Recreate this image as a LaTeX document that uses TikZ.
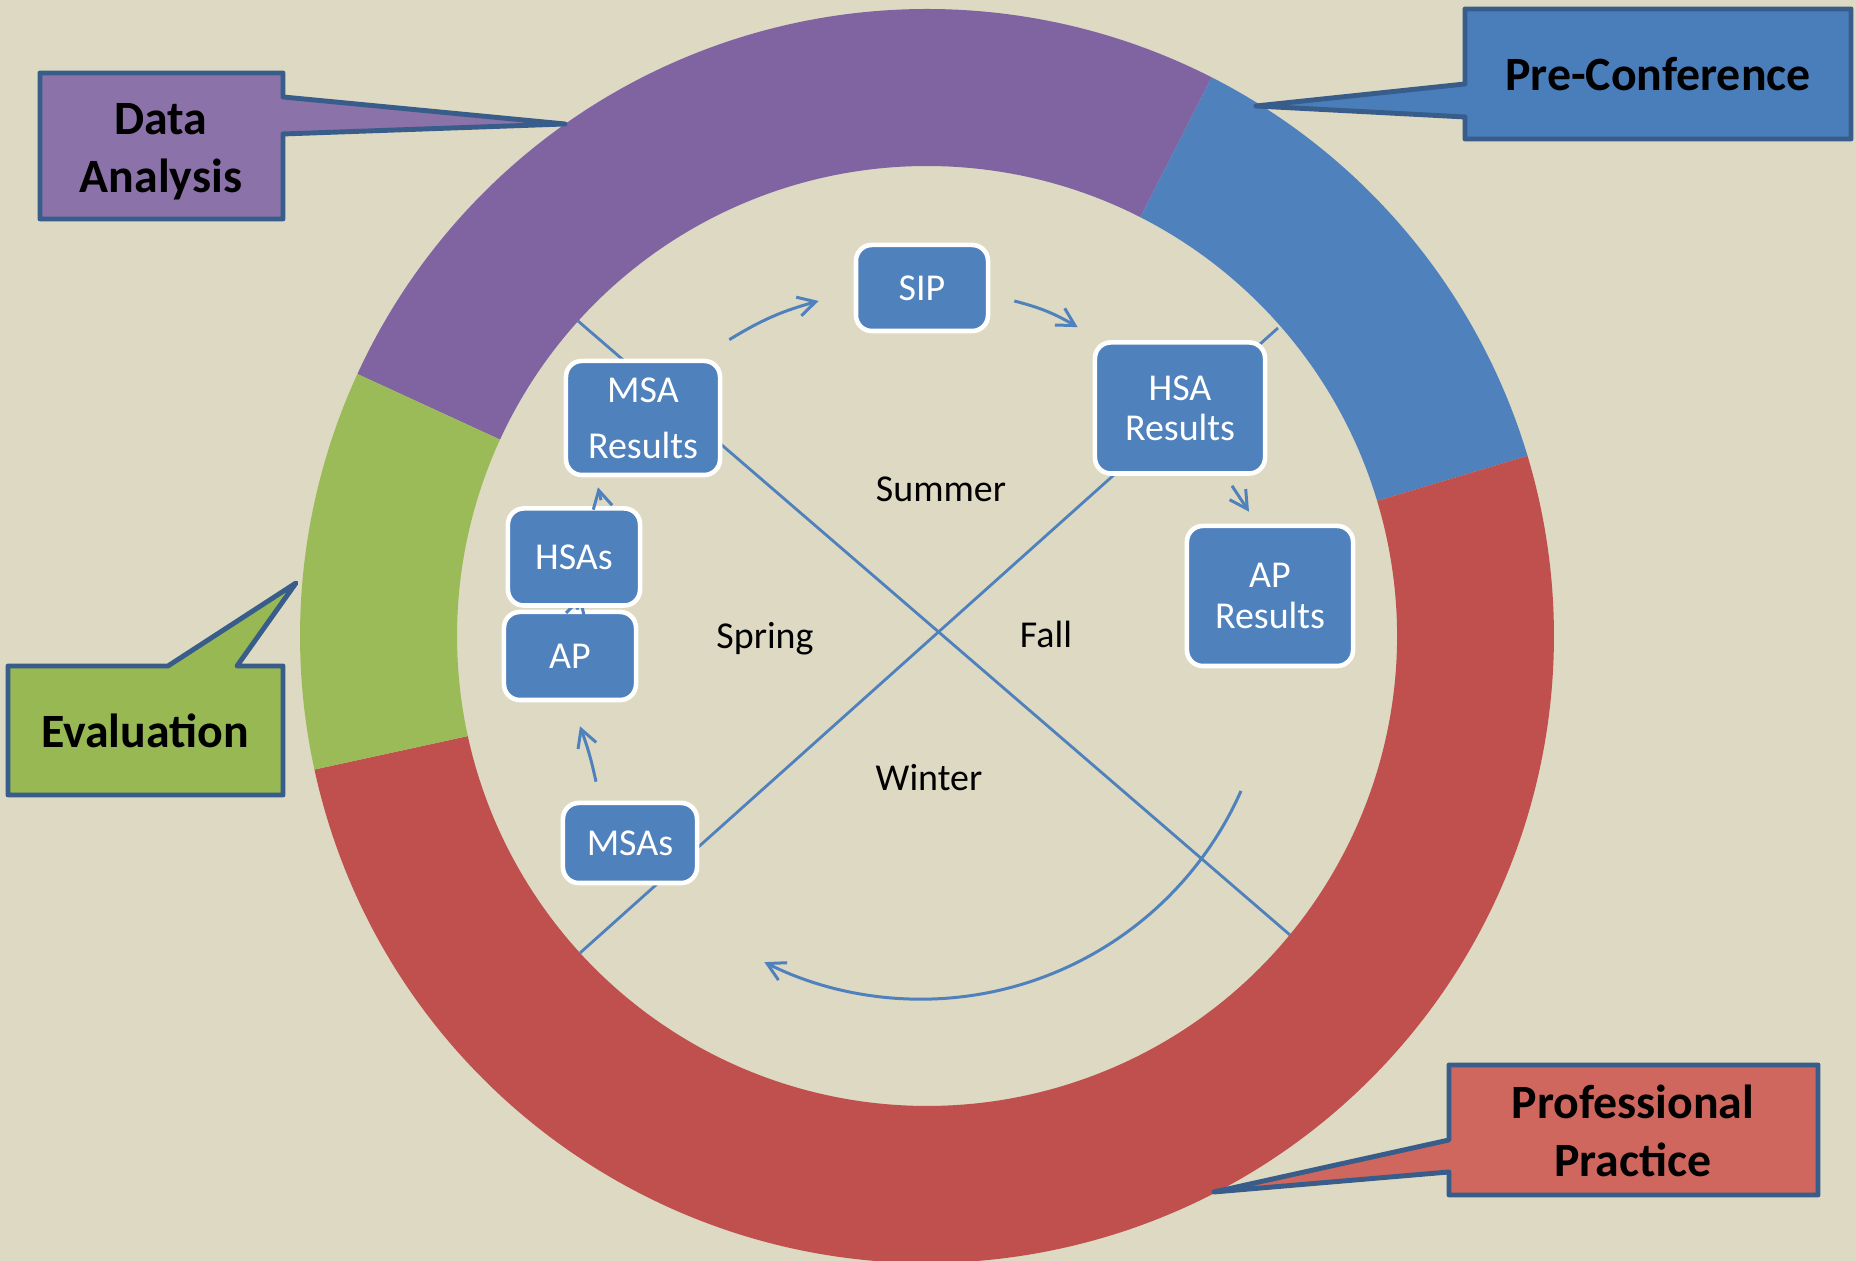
\documentclass[tikz,border=0pt]{standalone}
\usepackage{fontspec}
\setmainfont{Carlito}
\usepackage{tikz}
\usetikzlibrary{arrows.meta}

\definecolor{bg}{HTML}{DDD9C3}
\definecolor{ringda}{HTML}{8064A2}
\definecolor{ringpc}{HTML}{4F81BD}
\definecolor{ringpp}{HTML}{C0504D}
\definecolor{ringev}{HTML}{9BBB59}
\definecolor{edge}{HTML}{385D8A}
\definecolor{fillda}{HTML}{8B72A9}
\definecolor{fillpc}{HTML}{4A7EBB}
\definecolor{fillev}{HTML}{97B853}
\definecolor{fillpp}{HTML}{CF675F}

\tikzset{
	>={Straight Barb[length=5pt,width=5.5pt]},  % open arrow heads
	box/.style={draw=white, fill=ringpc, line width=1.3pt, rounded corners=4.5pt,
		text=white, align=center, inner sep=2pt, font=\fontsize{10.8}{11.4}\selectfont},
	season/.style={font=\fontsize{10.8}{12}\selectfont, text=black},
	flow/.style={ringpc, line width=0.85pt, ->},
	chord/.style={ringpc, line width=0.8pt},
	callout/.style={draw=edge, line width=1.4pt, line join=round},
	calltext/.style={align=center, font=\bfseries\fontsize{13.6}{16.5}\selectfont}
}

\begin{document}
\begin{tikzpicture}[x=0.01cm, y=0.01cm]
	% page and background
	\useasboundingbox (0,0) rectangle (1856,1261);
	\fill[bg] (0,0) rectangle (1856,1261);
	
	% ring of four phases
	\coordinate (O) at (927,625);
	\foreach \a/\b/\c in {63/155.3/ringda, 16.7/63/ringpc, -167.7/16.7/ringpp, 155.3/192.3/ringev}
	\fill[\c] ([shift={(\a:627)}]O) arc[start angle=\a, end angle=\b, radius=627]
	-- ([shift={(\b:470)}]O) arc[start angle=\b, end angle=\a, radius=470] -- cycle;
	
	% the cross splitting the seasons
	\coordinate (c1) at (578,940);
	\coordinate (c2) at (1290,326);
	\coordinate (c3) at (1278,933);
	\coordinate (c4) at (580,308);
	\draw[chord] (c1) -- (c2);
	\draw[chord] (c3) -- (c4);
	
	% yearly sweep (winter)
	\coordinate (sweep) at (1241,470);
	\draw[flow] (sweep) arc[start angle=-23.9, end angle=-116.6, radius=350];
	
	% results and tests
	\node[box, minimum width=1.32cm, minimum height=0.86cm] (sip) at (922,973) {SIP};
	\node[box, minimum width=1.54cm, minimum height=1.14cm,
	font=\fontsize{10.8}{16}\selectfont] (msa) at (643,843) {MSA\\Results};
	\node[box, minimum width=1.70cm, minimum height=1.31cm] (hsa) at (1180,853) {HSA\\Results};
	\node[box, minimum width=1.66cm, minimum height=1.40cm] (apr) at (1270,665) {AP\\Results};
	\node[box, minimum width=1.32cm, minimum height=0.88cm] (ap) at (570,605) {AP};
	\draw[flow] ([xshift=2pt]ap.north) -- ++(4,14);
	\node[box, minimum width=1.32cm, minimum height=0.97cm] (hsas) at (574,704) {HSAs};
	\node[box, minimum width=1.34cm, minimum height=0.80cm] (msas) at (630,418) {MSAs};
	
	% arrows between them
	\draw[flow] ([shift={(7,19)}]msa.north east) to[bend left=8] ([shift={(-35,-13)}]sip.west);
	\draw[flow] ([shift={(24,-13)}]sip.east) to[bend left=8] ([shift={(-15,13)}]hsa.north west);
	\draw[flow] ([shift={(52,-10)}]hsa.south) -- ([shift={(-21,12)}]apr.north);
	\draw[flow] ([shift={(27,6)}]hsas.north) -- ([shift={(-45,-10)}]msa.south);
	\draw[flow] ([shift={(-34,19)}]msas.north) to[bend right=4] ([shift={(10,-24)}]ap.south);
	
	% seasons
	\node[season] (summer) at (941,772) {Summer};
	\node[season] (spring) at (765,622) {Spring};
	\node[season] (fall) at (1046,627) {Fall};
	\node[season] (winter) at (929,483) {Winter};
	
	% callouts
	\draw[callout, fill=fillda] (40,1042) -- (40,1188) -- (283,1188) -- (283,1164)
	-- (565,1137) -- (283,1127) -- (283,1042) -- cycle;
	\node[calltext] (da) at (161,1109) {Data\\Analysis};
	
	\draw[callout, fill=fillpc] (1465,1122) -- (1465,1144) -- (1256,1155) -- (1465,1177)
	-- (1465,1252) -- (1851,1252) -- (1851,1122) -- cycle;
	\node[calltext] (pc) at (1658,1187) {Pre-Conference};
	
	\draw[callout, fill=fillev] (8,466) -- (8,595) -- (168,595) -- (296,678)
	-- (237,595) -- (283,595) -- (283,466) -- cycle;
	\node[calltext] (ev) at (145,530) {Evaluation};
	
	\draw[callout, fill=fillpp] (1449,66) -- (1449,89) -- (1214,69) -- (1449,121)
	-- (1449,196) -- (1818,196) -- (1818,66) -- cycle;
	\node[calltext] (pp) at (1633,130) {Professional\\Practice};
	
\end{tikzpicture}
\end{document}
